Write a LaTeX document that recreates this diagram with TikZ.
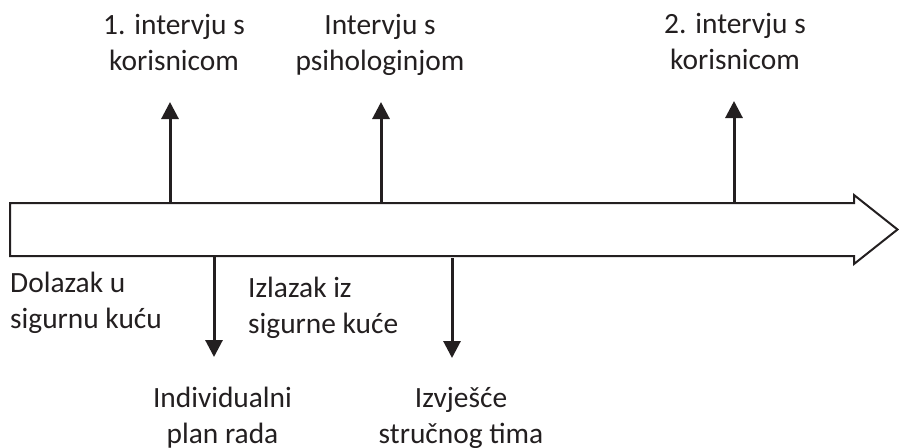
\documentclass[tikz,border=0pt]{standalone}
\usepackage{fontspec}
\setmainfont{Carlito}
\usetikzlibrary{arrows.meta}
\definecolor{ink}{HTML}{231F20}
\tikzset{
  lbl/.style={inner sep=0pt, text=ink, font=\fontsize{29.4}{36}\selectfont},
  bigbody/.style={draw=ink, line width=2pt, line join=miter, fill=white},
  evarrow/.style={draw=ink, line width=3pt, -{Triangle[length=17pt,width=17pt]}}
}
\begin{document}
\begin{tikzpicture}[x=1pt,y=-1pt]
\useasboundingbox (0,0) rectangle (899,447);
% big timeline arrow
\draw[bigbody] (10,203) -- (854,203) -- (854,195) -- (897.5,229.5) -- (854,264) -- (854,256) -- (10,256) -- cycle;
% anchor coordinates on the timeline
\coordinate (u1s) at (170,203);
\coordinate (u1e) at (170,102);
\coordinate (u2s) at (381,203);
\coordinate (u2e) at (381,102);
\coordinate (u3s) at (734,203);
\coordinate (u3e) at (734,101);
\coordinate (d1s) at (214,256);
\coordinate (d1e) at (214,357);
\coordinate (d2s) at (452,258);
\coordinate (d2e) at (452,358);
\draw[evarrow] (u1s) -- (u1e);
\draw[evarrow] (u2s) -- (u2e);
\draw[evarrow] (u3s) -- (u3e);
\draw[evarrow] (d1s) -- (d1e);
\draw[evarrow] (d2s) -- (d2e);
% labels
\node[lbl, anchor=base] (t1) at (174,34) {\begin{tabular}[t]{@{}c@{}}1. intervju s\\korisnicom\end{tabular}};
\node[lbl, anchor=base] (t2) at (380,34) {\begin{tabular}[t]{@{}c@{}}Intervju s\\psihologinjom\end{tabular}};
\node[lbl, anchor=base] (t3) at (735,33) {\begin{tabular}[t]{@{}c@{}}2. intervju s\\korisnicom\end{tabular}};
\node[lbl, anchor=base west] (b1) at (10,292) {\begin{tabular}[t]{@{}l@{}}Dolazak u\\sigurnu kuću\end{tabular}};
\node[lbl, anchor=base west] (b2) at (248,297) {\begin{tabular}[t]{@{}l@{}}Izlazak iz\\sigurne kuće\end{tabular}};
\node[lbl, anchor=base] (b3) at (222.5,407) {\begin{tabular}[t]{@{}c@{}}Individualni\\plan rada\end{tabular}};
\node[lbl, anchor=base] (b4) at (461,407) {\begin{tabular}[t]{@{}c@{}}Izvješće\\stručnog tima\end{tabular}};
\end{tikzpicture}
\end{document}
